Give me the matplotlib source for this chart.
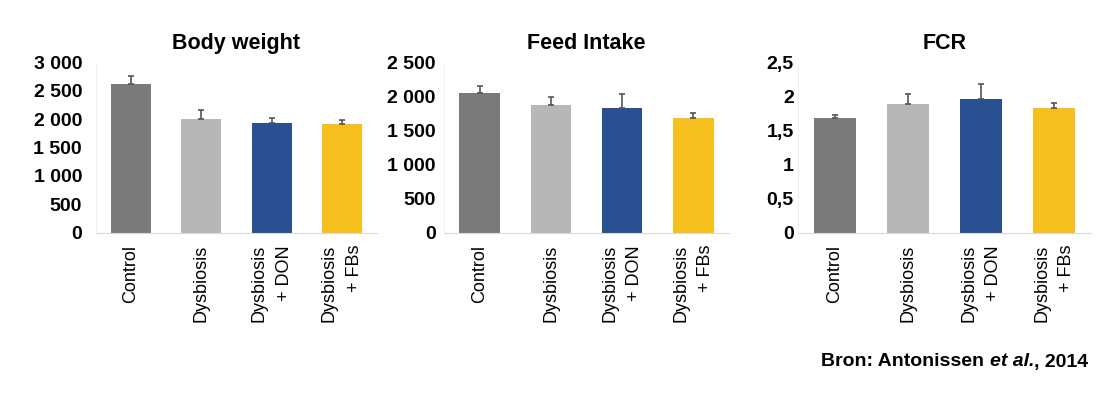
import matplotlib
matplotlib.use('Agg')
import matplotlib.pyplot as plt

categories = ['Control', 'Dysbiosis', 'Dysbiosis\n+ DON', 'Dysbiosis\n+ FBs']
colors = ['#7a7a7a', '#b7b7b7', '#2a5092', '#f5c01e']

body_weight     = [2620, 2010, 1930, 1910]
body_weight_err = [150, 150, 90, 75]
feed_intake     = [2050, 1870, 1830, 1690]
feed_intake_err = [110, 130, 210, 60]
fcr             = [1.68, 1.89, 1.97, 1.83]
fcr_err         = [0.05, 0.14, 0.22, 0.07]

panels = [
    ('Body weight', body_weight, body_weight_err, [0, 500, 1000, 1500, 2000, 2500, 3000],
     ['0', '500', '1 000', '1 500', '2 000', '2 500', '3 000'], 96, 377, 10),
    ('Feed Intake', feed_intake, feed_intake_err, [0, 500, 1000, 1500, 2000, 2500],
     ['0', '500', '1 000', '1 500', '2 000', '2 500'], 444, 729, 6),
    ('FCR', fcr, fcr_err, [0, 0.5, 1, 1.5, 2, 2.5],
     ['0', '0,5', '1', '1,5', '2', '2,5'], 798, 1091, 3),
]

plt.rcParams['font.family'] = ['Liberation Sans', 'DejaVu Sans']

W, H = 1096, 396
fig = plt.figure(figsize=(W / 100, H / 100), dpi=100)

y_bot, y_top = 232.5, 62.5
for title, vals, errs, ticks, tlabels, x0, x1, ypad in panels:
    ax = fig.add_axes([x0 / W, (H - y_bot) / H, (x1 - x0) / W, (y_bot - y_top) / H])
    x = range(len(categories))
    ax.bar(x, vals, width=0.57, color=colors, zorder=2)
    ax.errorbar(x, vals, yerr=[[0] * len(errs), errs], fmt='none',
                ecolor='#555555', elinewidth=1.2, capsize=2.5, capthick=1.2, zorder=3)
    ax.set_xlim(-0.5, 3.5)
    ax.set_ylim(0, ticks[-1])
    ax.set_yticks(ticks)
    ax.set_yticklabels(tlabels, fontsize=14, fontweight='bold')
    ax.set_xticks(list(x))
    ax.set_xticklabels(categories, rotation=90, fontsize=13, va='top', ha='center',
                       multialignment='right', linespacing=1.6)
    ax.tick_params(axis='y', length=0, pad=ypad)
    ax.tick_params(axis='x', length=0, pad=9)
    for s in ['top', 'right']:
        ax.spines[s].set_visible(False)
    ax.spines['left'].set_color('#f0f0f0')
    ax.spines['bottom'].set_color('#d9d9d9')
    ax.set_title(title, fontsize=15.5, fontweight='bold', pad=10)

# source line, with "et al." in italics
src_font = ['Liberation Sans Narrow', 'Liberation Sans']
parts = [('Bron: Antonissen ', 'normal'), ('et al.', 'italic'), (', 2014', 'normal')]
fig.canvas.draw()
r = fig.canvas.get_renderer()
xpos = 1088 / W
ypos = (H - 362) / H
for txt, style in reversed(parts):
    t = fig.text(xpos, ypos, txt, ha='right', va='center', fontsize=14,
                 fontweight='bold', style=style, family=src_font)
    bb = t.get_window_extent(renderer=r)
    xpos = bb.x0 / W

fig.savefig('out.png', dpi=100)
